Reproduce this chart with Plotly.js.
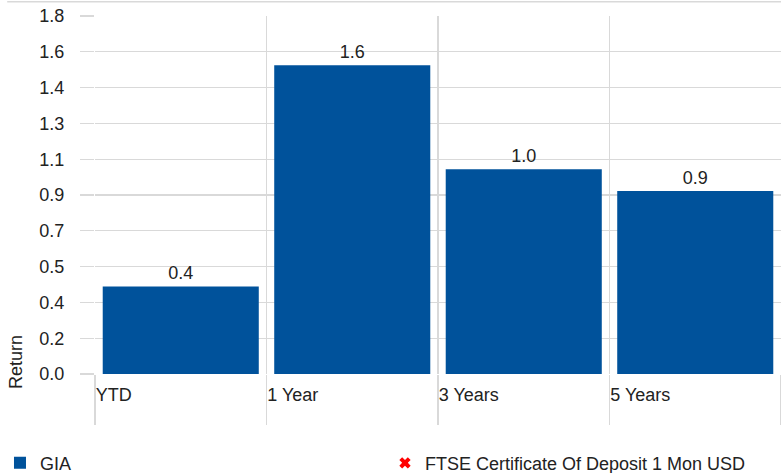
<!DOCTYPE html>
<html>
<head>
<meta charset="utf-8">
<script src="https://cdn.plot.ly/plotly-3.0.1.min.js"></script>
<style>
  html, body { margin: 0; padding: 0; background: #fff; }
  #chart { width: 781px; height: 473px; }
</style>
</head>
<body>
<div id="chart"></div>
<script>
// ---- data ----
const categories = ["YTD", "1 Year", "3 Years", "5 Years"];
const giaValues = [0.44, 1.553, 1.03, 0.92];
const ftseValues = [null, null, null, null];
const yTickVals = [0, 0.18, 0.36, 0.54, 0.72, 0.9, 1.08, 1.26, 1.44, 1.62, 1.8];
const yTickText = ["0.0", "0.2", "0.4", "0.5", "0.7", "0.9", "1.1", "1.3", "1.4", "1.6", "1.8"];
const seriesNames = ["GIA", "FTSE Certificate Of Deposit 1 Mon USD"];
const yTitle = "Return";

const FONT = '"Liberation Sans", Arial, sans-serif';
const TXT = '#222222';
const GRID = '#d9d9d9';
const FS = 18;

const traces = [
  {
    type: 'bar',
    name: seriesNames[0],
    x: categories,
    y: giaValues,
    xaxis: 'x',
    yaxis: 'y',
    marker: { color: '#00529b' },
    texttemplate: '%{y:.1f}',
    textposition: 'outside',
    textfont: { family: FONT, size: FS, color: TXT },
    cliponaxis: false,
    hoverinfo: 'skip'
  },
  {
    type: 'scatter',
    mode: 'markers',
    name: seriesNames[1],
    x: categories,
    y: ftseValues,
    xaxis: 'x2',
    yaxis: 'y',
    marker: { symbol: 'x', color: '#ff0000', size: 10 },
    hoverinfo: 'skip'
  }
];

const layout = {
  width: 781,
  height: 473,
  margin: { l: 95, r: 0, t: 16, b: 99, autoexpand: false },
  paper_bgcolor: '#ffffff',
  plot_bgcolor: '#ffffff',
  font: { family: FONT, size: FS, color: TXT },
  bargap: 0.09,
  showlegend: true,
  legend: {
    orientation: 'h',
    x: -0.1385,
    xanchor: 'left',
    y: -0.249,
    yanchor: 'middle',
    entrywidth: 340,
    entrywidthmode: 'pixels',
    font: { family: FONT, size: FS, color: TXT },
    bgcolor: 'rgba(0,0,0,0)',
    traceorder: 'normal'
  },
  xaxis: {
    type: 'category',
    categoryorder: 'array',
    categoryarray: categories,
    range: [-0.5, 3.5],
    tickson: 'boundaries',
    showgrid: true,
    gridcolor: GRID,
    gridwidth: 1.5,
    ticks: 'outside',
    ticklen: 50,
    tickwidth: 1.5,
    tickcolor: GRID,
    showticklabels: false,
    showline: false,
    zeroline: false,
    fixedrange: true
  },
  xaxis2: {
    type: 'category',
    overlaying: 'x',
    side: 'bottom',
    categoryorder: 'array',
    categoryarray: categories,
    range: [-0.5, 3.5],
    showgrid: false,
    ticks: '',
    showticklabels: true,
    ticklabelposition: 'outside right',
    ticklabelshift: -85,
    ticklabelstandoff: 8,
    tickfont: { family: FONT, size: FS, color: TXT },
    showline: false,
    zeroline: false,
    fixedrange: true
  },
  yaxis: {
    range: [0, 1.8],
    tickmode: 'array',
    tickvals: yTickVals,
    ticktext: yTickText,
    showgrid: true,
    gridcolor: GRID,
    gridwidth: 1.2,
    ticks: 'outside',
    ticklen: 14,
    tickwidth: 1.2,
    tickcolor: GRID,
    ticklabelstandoff: 12,
    tickfont: { family: FONT, size: FS, color: TXT },
    showline: false,
    zeroline: false,
    fixedrange: true
  },
  annotations: [
    {
      text: yTitle,
      xref: 'paper', yref: 'paper',
      x: -0.115, y: 0.034,
      xanchor: 'center', yanchor: 'middle',
      textangle: -90,
      showarrow: false,
      font: { family: FONT, size: FS, color: TXT }
    }
  ],
  shapes: [
    {
      type: 'line',
      xref: 'paper', yref: 'paper',
      x0: -0.128, x1: 1, y0: 1.04, y1: 1.04,
      line: { color: GRID, width: 1.5 }
    }
  ]
};

Plotly.newPlot('chart', traces, layout, { displayModeBar: false, staticPlot: true });
</script>
</body>
</html>
